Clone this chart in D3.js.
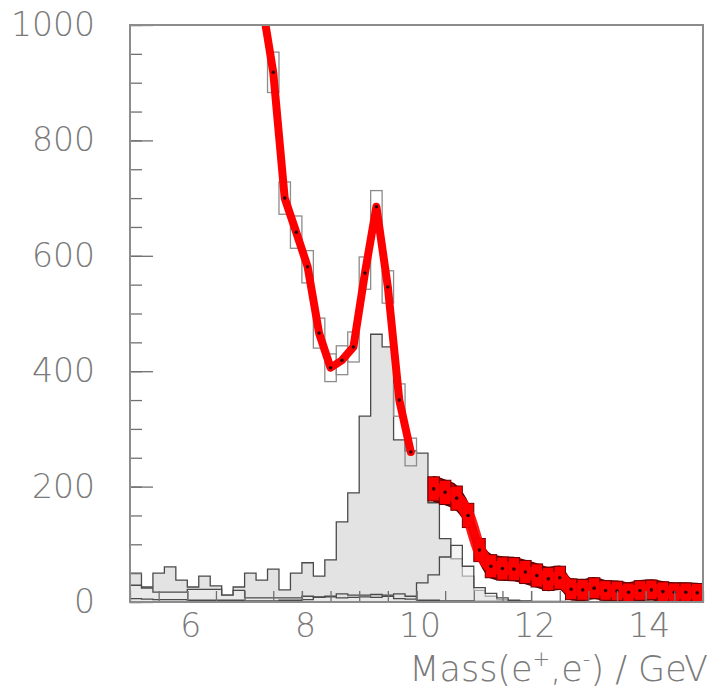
<!DOCTYPE html>
<html>
<head>
<meta charset="utf-8">
<script src="https://cdn.jsdelivr.net/npm/d3@7"></script>
<style>
  html, body { margin: 0; padding: 0; background: #ffffff; }
  svg { display: block; }
</style>
</head>
<body>
<svg id="chart" width="709" height="696"></svg>
<script>
// ---------------- DATA ----------------
// lower edges of the 0.2 GeV mass bins
const binLow = [5.0,5.2,5.4,5.6,5.8,6.0,6.2,6.4,6.6,6.8,
                7.0,7.2,7.4,7.6,7.8,8.0,8.2,8.4,8.6,8.8,
                9.0,9.2,9.4,9.6,9.8,10.0,10.2,10.4,10.6,10.8,
                11.0,11.2,11.4,11.6,11.8,12.0,12.2,12.4,12.6,12.8,
                13.0,13.2,13.4,13.6,13.8,14.0,14.2,14.4,14.6,14.8];
const binWidth = 0.2;

// large filled grey histogram (peak near 9.3 GeV)
const histPeak = [50,26,50,61,38,26,45,28,12,26,
                  50,38,57,21,50,68,45,73,139,189,
                  322,464,442,281,262,258,172,110,75,45,
                  20,10,4,2,1,0,0,0,0,0,
                  0,0,0,0,0,0,0,0,0,0];
// second open histogram (bump near 10.7 GeV)
const histBump = [29,24,17,17,17,22,22,22,12,20,
                  7,7,7,7,7,10,8,9,7,8,
                  9,8,10,6,5,33,47,78,98,62,
                  25,15,7,3,2,1,1,1,0,0,
                  0,0,0,0,0,0,0,0,0,0];
// third histogram close to zero
const histLow = [6,5,4,4,4,3,3,3,3,3,
                 2,2,2,3,3,4,9,10,14,12,
                 12,13,12,14,10,3,3,2,2,2,
                 1,1,1,1,0,0,0,0,0,0,
                 0,0,0,0,0,0,0,0,0,0];

// data points (null = no point) and their errors
const dataVal = [null,null,null,null,null,null,null,null,null,null,
                 null,1040,918,700,641,581,466,406,419,442,
                 570,685,546,350,260,null,196,190,180,150,
                 90,62,58,57,52,46,40,42,22,21,
                 24,20,19,17,20,21,18,17,17,16];
const dataErr = [0,0,0,0,0,0,0,0,0,0,
                 0,35,35,28,28,28,26,24,25,26,
                 28,28,28,28,24,0,21,21,21,21,
                 20,20,20,20,20,20,20,20,18,18,
                 18,17,17,16,17,17,17,16,16,16];
// index where the filled-red (high mass) part of the fit begins
const filledFrom = 26;

const yTicksMajor = [0,200,400,600,800,1000];
const xTicksMajor = [6,8,10,12,14];

// ---------------- CHART ----------------
const svg = d3.select("#chart");
const pL = 130, pR = 703, pT = 25, pB = 602;
const x = d3.scaleLinear().domain([5,15]).range([pL,pR]);
const y = d3.scaleLinear().domain([0,1000]).range([pB,pT]);

svg.append("defs").append("clipPath").attr("id","clip")
  .append("rect").attr("x",pL).attr("y",pT).attr("width",pR-pL).attr("height",pB-pT);

const plot = svg.append("g").attr("clip-path","url(#clip)");

function stepPath(vals){
  let p = "M" + x(binLow[0]) + "," + y(0);
  vals.forEach((v,i)=>{
    p += "L" + x(binLow[i]) + "," + y(v) + "L" + x(binLow[i]+binWidth) + "," + y(v);
  });
  p += "L" + x(binLow[binLow.length-1]+binWidth) + "," + y(0);
  return p;
}

plot.append("path").attr("d", stepPath(histPeak))
  .attr("fill","#e3e3e3").attr("stroke","#4a4a4a").attr("stroke-width",1.3);
plot.append("path").attr("d", stepPath(histBump))
  .attr("fill","#ececec").attr("fill-opacity",0.6).attr("stroke","#4a4a4a").attr("stroke-width",1.3);
plot.append("path").attr("d", stepPath(histLow))
  .attr("fill","none").attr("stroke","#4a4a4a").attr("stroke-width",1.3);

const pts = dataVal.map((v,i)=>({i, v, e:dataErr[i], xc: binLow[i]+binWidth/2})).filter(d=>d.v!==null);
const lowPts = pts.filter(d=>d.i < filledFrom);
const highPts = pts.filter(d=>d.i >= filledFrom);

// open error boxes (low-mass part)
plot.selectAll("rect.ebox").data(lowPts).join("rect").attr("class","ebox")
  .attr("x", d=>x(binLow[d.i])).attr("width", x(binWidth)-x(0))
  .attr("y", d=>y(d.v+d.e)).attr("height", d=>y(d.v-d.e)-y(d.v+d.e))
  .attr("fill","none").attr("stroke","#8c8c8c").attr("stroke-width",1.3);

// red fit line through low-mass part
plot.append("path").datum(lowPts)
  .attr("d", d3.line().x(d=>x(d.xc)).y(d=>y(d.v)))
  .attr("fill","none").attr("stroke","#ff0000").attr("stroke-width",8)
  .attr("stroke-linejoin","round").attr("stroke-linecap","round");

// red band for high-mass part
plot.append("path").datum(highPts)
  .attr("d", d3.area().x(d=>x(d.xc)).y0(d=>y(d.v-d.e)).y1(d=>y(d.v+d.e)).curve(d3.curveMonotoneX))
  .attr("fill","#ff0000").attr("stroke","#5a0000").attr("stroke-width",1.4);
plot.selectAll("rect.fbox").data(highPts).join("rect").attr("class","fbox")
  .attr("x", d=>x(binLow[d.i])).attr("width", x(binWidth)-x(0))
  .attr("y", d=>y(d.v+d.e)).attr("height", d=>y(d.v-d.e)-y(d.v+d.e))
  .attr("fill","#ff0000").attr("stroke","#6a0000").attr("stroke-width",1);
plot.append("path").datum(highPts)
  .attr("d", d3.line().x(d=>x(d.xc)).y(d=>y(d.v)).curve(d3.curveMonotoneX))
  .attr("fill","none").attr("stroke","#ff0000").attr("stroke-width",13)
  .attr("stroke-linejoin","round").attr("stroke-opacity",0.9);

// data dots
plot.selectAll("circle.dot").data(pts).join("circle").attr("class","dot")
  .attr("cx", d=>x(d.xc)).attr("cy", d=>y(d.v)).attr("r",1.8).attr("fill","#300");

// ---------------- AXES ----------------
const fontFam = "'DejaVu Sans', 'Liberation Sans', sans-serif";
const tickCol = "#707070", labCol = "#7a7a7a";

const yMinor = svg.append("g").attr("transform",`translate(${pL},0)`)
  .call(d3.axisLeft(y).tickValues(d3.range(0,1001,50)).tickSizeInner(-12).tickSizeOuter(0).tickFormat(""));
const yMajor = svg.append("g").attr("transform",`translate(${pL},0)`)
  .call(d3.axisLeft(y).tickValues(yTicksMajor).tickSizeInner(-23).tickSizeOuter(0)
        .tickPadding(35).tickFormat(d3.format("d")));
const xMinor = svg.append("g").attr("transform",`translate(0,${pB})`)
  .call(d3.axisBottom(x).tickValues(d3.range(5,15.01,0.5)).tickSizeInner(-11).tickSizeOuter(0).tickFormat(""));
const xMajor = svg.append("g").attr("transform",`translate(0,${pB})`)
  .call(d3.axisBottom(x).tickValues(xTicksMajor).tickSizeInner(-11).tickSizeOuter(0)
        .tickPadding(12).tickFormat(d3.format("d")));

[yMinor,yMajor,xMinor,xMajor].forEach(g=>{
  g.select(".domain").remove();
  g.selectAll(".tick line").attr("stroke",tickCol).attr("stroke-width",1.3);
  g.selectAll(".tick text").attr("fill",labCol).attr("font-family",fontFam)
    .attr("font-size",33).attr("font-weight",200);
});
xMajor.selectAll(".tick text").attr("dx", 3);

// frame
svg.append("rect").attr("x",pL).attr("y",pT).attr("width",pR-pL).attr("height",pB-pT)
  .attr("fill","none").attr("stroke","#8c8c8c").attr("stroke-width",2);

// axis title
const title = svg.append("text").attr("x",708).attr("y",681).attr("text-anchor","end")
  .attr("fill",labCol).attr("font-family",fontFam).attr("font-size",35).attr("font-weight",200);
title.append("tspan").text("Mass(e");
title.append("tspan").attr("font-size",21).attr("dy",-15).text("+");
title.append("tspan").attr("dy",15).text(",e");
title.append("tspan").attr("font-size",21).attr("dy",-15).text("-");
title.append("tspan").attr("dy",15).text(") / GeV");
</script>
</body>
</html>
